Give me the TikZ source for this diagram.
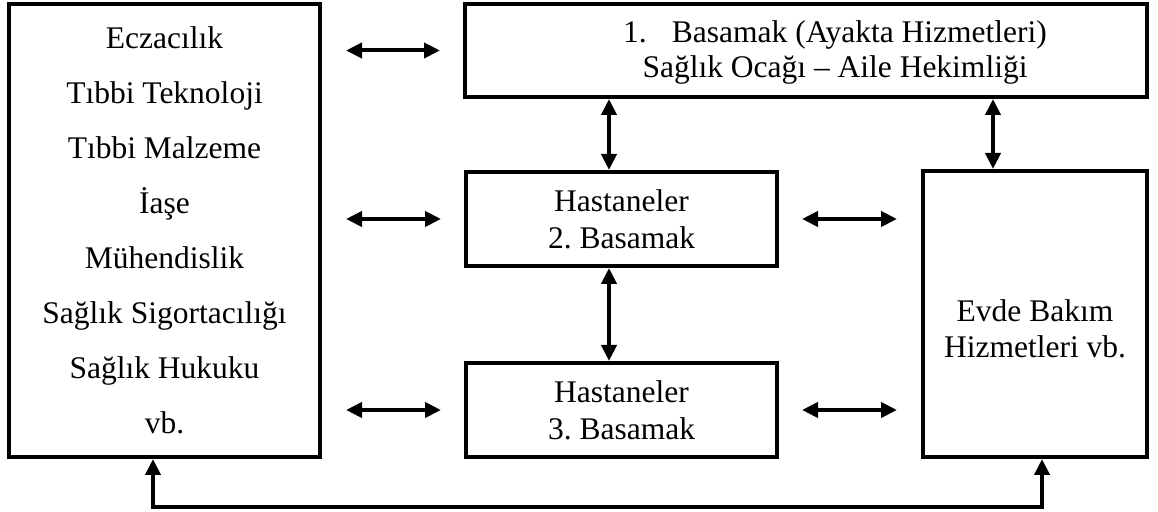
\documentclass[tikz,border=0pt]{standalone}
\usepackage{fontspec}
\setmainfont{Liberation Serif}
\usetikzlibrary{arrows.meta}
\frenchspacing
\begin{document}
\begin{tikzpicture}[x=0.5pt,y=-0.5pt,
  box/.style={draw, line width=2pt, rectangle, inner sep=0pt, outer sep=0pt, align=center,
    font=\fontsize{15.75pt}{18.5pt}\selectfont},
  txt/.style={inner sep=0pt, align=center, font=\fontsize{15.75pt}{18pt}\selectfont},
  conn/.style={line width=2pt, {Triangle[length=8pt,width=7.5pt]}-{Triangle[length=8pt,width=7.5pt]}},
]
\useasboundingbox (0,0) rectangle (1158,512);
% boxes
\node[box, minimum width=155.5pt, minimum height=226.5pt,
      font=\fontsize{15.75pt}{27.5pt}\selectfont] (left) at (164.5,230.5)
  {Eczacılık\\Tıbbi Teknoloji\\Tıbbi Malzeme\\İaşe\\Mühendislik\\Sağlık Sigortacılığı\\Sağlık Hukuku\\vb.};
\node[box, minimum width=341pt, minimum height=46.5pt] (top) at (806,50.5) {};
\node[txt, font=\fontsize{15.75pt}{17.5pt}\selectfont] (toptxt) at (835,52)
  {1.\hspace{0.8em}Basamak (Ayakta Hizmetleri)\\Sağlık Ocağı – Aile Hekimliği};
\node[box, minimum width=155.5pt, minimum height=47pt] (h2) at (621.5,219)
  {Hastaneler\\2. Basamak};
\node[box, minimum width=155.5pt, minimum height=47pt] (h3) at (621.5,410)
  {Hastaneler\\3. Basamak};
\node[box, minimum width=112pt, minimum height=143pt] (evde) at (1035,314) {};
\node[txt] (evdetxt) at (1035,329) {Evde Bakım\\Hizmetleri vb.};
% horizontal arrows
\draw[conn, shorten <=13pt, shorten >=12.5pt] (left.east |- top.west) -- (top.west);
\draw[conn, shorten <=13pt, shorten >=12.5pt] (left.east |- h2.west) -- (h2.west);
\draw[conn, shorten <=13pt, shorten >=12.5pt] (left.east |- h3.west) -- (h3.west);
\draw[conn, shorten <=12.5pt, shorten >=13pt] (h2.east) -- (evde.west |- h2.east);
\draw[conn, shorten <=12.5pt, shorten >=13pt] (h3.east) -- (evde.west |- h3.east);
% vertical arrows
\coordinate (v1) at ([xshift=-6.25pt]h2.north);
\coordinate (v2) at ([xshift=-6.25pt]h3.north);
\coordinate (v3) at ([xshift=-21pt]evde.north);
\draw[conn, shorten <=1pt, shorten >=1pt] (v1 |- top.south) -- (v1);
\draw[conn, shorten <=1pt, shorten >=1pt] (v2 |- h2.south) -- (v2);
\draw[conn, shorten <=1pt, shorten >=1pt] (v3 |- top.south) -- (v3);
% bottom connector
\coordinate (bl) at (153,507);
\coordinate (br) at (1042,507);
\draw[conn, shorten <=1pt, shorten >=1pt] (left.south -| bl) -- (bl) -- (br) -- (evde.south -| br);
\end{tikzpicture}
\end{document}
